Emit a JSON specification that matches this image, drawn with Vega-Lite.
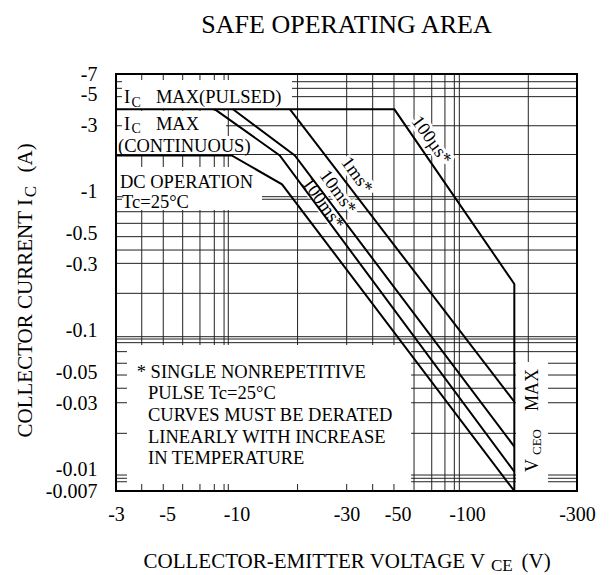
{
  "$schema": "https://vega.github.io/schema/vega-lite/v6.json",
  "width": 461,
  "height": 417,
  "autosize": {"type": "none"},
  "padding": {"left": 116, "top": 74, "right": 38, "bottom": 84},
  "background": "white",
  "config": {"font": "Liberation Serif", "view": {"stroke": null}},
  "title": {"text": "SAFE OPERATING AREA", "fontSize": 26, "fontWeight": "normal", "color": "black", "anchor": "middle", "baseline": "alphabetic", "offset": 5},
  "datasets": {
    "vgrid": [{"v":3.88},{"v":4.81},{"v":5.84},{"v":6.94},{"v":8.01},{"v":8.83},{"v":9.21},{"v":18.4},{"v":30.06},{"v":38.97},{"v":48.2},{"v":58.9},{"v":70.3},{"v":80.2},{"v":88.1},{"v":92.6},{"v":184.4}],
    "hgrid": [{"i":6.16},{"i":5.52},{"i":4.81},{"i":2.97},{"i":1.845},{"i":0.917},{"i":0.879},{"i":0.715},{"i":0.59},{"i":0.473},{"i":0.379},{"i":0.304},{"i":0.185},{"i":0.0902},{"i":0.0868},{"i":0.0817},{"i":0.0704},{"i":0.0581},{"i":0.0478},{"i":0.0384},{"i":0.0302},{"i":0.0182},{"i":0.00912},{"i":0.00864},{"i":0.00816}],
    "boxes": [
      {"x1":3.185,"x2":17.4,"y1":6.34,"y2":3.9},
      {"x1":3.185,"x2":9.0,"y1":3.79,"y2":2.384},
      {"x1":3.015,"x2":12.39,"y1":2.507,"y2":1.86},
      {"x1":3.185,"x2":12.9,"y1":1.5,"y2":0.736},
      {"x1":3.348,"x2":57.2,"y1":0.0786,"y2":0.00786},
      {"x1":163.1,"x2":224.6,"y1":0.0593,"y2":0.0071}
    ],
    "curves": [
      {"c":"100us","o":1,"v":3,"i":3.9},
      {"c":"100us","o":2,"v":48.4,"i":3.9},
      {"c":"100us","o":3,"v":160.4,"i":0.216},
      {"c":"100us","o":4,"v":160.4,"i":0.007},
      {"c":"1ms","o":1,"v":17.06,"i":3.9},
      {"c":"1ms","o":2,"v":160.4,"i":0.0307},
      {"c":"10ms","o":1,"v":9.65,"i":3.9},
      {"c":"10ms","o":2,"v":17.9,"i":1.815},
      {"c":"10ms","o":3,"v":160.4,"i":0.0146},
      {"c":"100ms","o":1,"v":8.06,"i":3.9},
      {"c":"100ms","o":2,"v":15.4,"i":1.815},
      {"c":"100ms","o":3,"v":160.4,"i":0.00964},
      {"c":"DC","o":1,"v":3,"i":1.815},
      {"c":"DC","o":2,"v":9.53,"i":1.815},
      {"c":"DC","o":3,"v":15.75,"i":1.126},
      {"c":"DC","o":4,"v":160.4,"i":0.007}
    ],
    "ann": [
      {"t":"I","v":3.25,"i":4.33},
      {"t":"MAX(PULSED)","v":4.47,"i":4.33},
      {"t":"I","v":3.25,"i":2.75},
      {"t":"MAX","v":4.47,"i":2.75},
      {"t":"(CONTINUOUS)","v":3.06,"i":1.908},
      {"t":"DC OPERATION","v":3.12,"i":1.059},
      {"t":"Tc=25°C","v":3.185,"i":0.76},
      {"t":"* SINGLE NONREPETITIVE","v":3.69,"i":0.0455},
      {"t":"PULSE Tc=25°C","v":4.13,"i":0.0319},
      {"t":"CURVES MUST BE DERATED","v":4.13,"i":0.02232},
      {"t":"LINEARLY WITH INCREASE","v":4.13,"i":0.01563},
      {"t":"IN TEMPERATURE","v":4.13,"i":0.01095}
    ],
    "sub": [
      {"t":"C","v":3.5,"i":4.05},
      {"t":"C","v":3.5,"i":2.615}
    ],
    "rot": [
      {"t":"100µs*","v":70.3,"i":2.345},
      {"t":"1ms*","v":33.4,"i":1.314},
      {"t":"10ms*","v":27.6,"i":0.996},
      {"t":"100ms*","v":23.8,"i":0.822}
    ],
    "vceo": [
      {"t":"V","v":203.2,"i":0.00959},
      {"t":"MAX","v":203.2,"i":0.02634}
    ],
    "vceosub": [
      {"t":"CEO","v":209.5,"i":0.01271}
    ],
    "frame": [{"x1":3,"x2":300,"y1":0.007,"y2":7}]
  },
  "resolve": {"axis": {"x": "independent", "y": "independent"}},
  "layer": [
    {
      "data": {"name": "vgrid"},
      "mark": {"type": "rule", "color": "#222", "strokeWidth": 1},
      "encoding": {
        "x": {"field": "v", "type": "quantitative", "scale": {"type": "log", "domain": [3, 300], "nice": false},
          "axis": {"orient": "bottom", "values": [3, 5, 10, 30, 50, 100, 300], "labelExpr": "'-' + datum.value", "grid": false, "ticks": false, "tickSize": 0, "domain": false,
            "labelFontSize": 20, "labelColor": "black", "labelPadding": 13, "labelFlush": false, "labelOverlap": false, "labelBound": false,
            "title": "COLLECTOR-EMITTER VOLTAGE V", "titleFontSize": 21, "titleFontWeight": "normal", "titleColor": "black",
            "titleX": 27, "titleY": 76, "titleAlign": "left", "titleBaseline": "alphabetic"}}
      }
    },
    {
      "data": {"name": "hgrid"},
      "mark": {"type": "rule", "color": "#222", "strokeWidth": 1},
      "encoding": {
        "y": {"field": "i", "type": "quantitative", "scale": {"type": "log", "domain": [0.007, 7], "nice": false},
          "axis": {"orient": "left", "values": [0.007, 0.01, 0.03, 0.05, 0.1, 0.3, 0.5, 1, 3, 5, 7], "labelExpr": "'-' + datum.value", "grid": false, "ticks": false, "tickSize": 0, "domain": false,
            "labelFontSize": 20, "labelColor": "black", "labelPadding": 19, "labelFlush": false, "labelOverlap": false, "labelBound": false,
            "title": "COLLECTOR CURRENT I", "titleFontSize": 21, "titleFontWeight": "normal", "titleColor": "black",
            "titleAngle": 270, "titleX": -85, "titleY": 363, "titleAlign": "left", "titleBaseline": "alphabetic"}}
      }
    },
    {
      "data": {"name": "boxes"},
      "mark": {"type": "rect", "color": "white"},
      "encoding": {
        "x": {"field": "x1", "type": "quantitative", "scale": {"type": "log", "domain": [3, 300], "nice": false},
          "axis": {"orient": "bottom", "labels": false, "ticks": false, "domain": false, "grid": false, "title": "CE", "titleFontSize": 17, "titleFontWeight": "normal", "titleColor": "black",
            "titleX": 374.5, "titleY": 79, "titleAlign": "left", "titleBaseline": "alphabetic"}},
        "x2": {"field": "x2"},
        "y": {"field": "y1", "type": "quantitative", "scale": {"type": "log", "domain": [0.007, 7], "nice": false},
          "axis": {"orient": "left", "labels": false, "ticks": false, "domain": false, "grid": false, "title": "C", "titleFontSize": 17, "titleFontWeight": "normal", "titleColor": "black",
            "titleAngle": 270, "titleX": -81, "titleY": 117, "titleAlign": "center", "titleBaseline": "alphabetic"}},
        "y2": {"field": "y2"}
      }
    },
    {
      "data": {"name": "rot"},
      "mark": {"type": "text", "angle": 54, "fontSize": 18.5, "fill": "white", "stroke": "white", "strokeWidth": 6, "align": "center", "baseline": "middle"},
      "encoding": {
        "x": {"field": "v", "type": "quantitative", "scale": {"type": "log", "domain": [3, 300], "nice": false}, "axis": null},
        "y": {"field": "i", "type": "quantitative", "scale": {"type": "log", "domain": [0.007, 7], "nice": false}, "axis": null},
        "text": {"field": "t"}
      }
    },
    {
      "data": {"name": "curves"},
      "mark": {"type": "line", "color": "black", "strokeWidth": 2},
      "encoding": {
        "x": {"field": "v", "type": "quantitative", "scale": {"type": "log", "domain": [3, 300], "nice": false}, "axis": null},
        "y": {"field": "i", "type": "quantitative", "scale": {"type": "log", "domain": [0.007, 7], "nice": false}, "axis": null},
        "detail": {"field": "c"},
        "order": {"field": "o", "type": "quantitative"}
      }
    },
    {
      "data": {"name": "ann"},
      "mark": {"type": "text", "align": "left", "baseline": "alphabetic", "fontSize": 18.5, "color": "black"},
      "encoding": {
        "x": {"field": "v", "type": "quantitative", "scale": {"type": "log", "domain": [3, 300], "nice": false}, "axis": null},
        "y": {"field": "i", "type": "quantitative", "scale": {"type": "log", "domain": [0.007, 7], "nice": false}, "axis": null},
        "text": {"field": "t"}
      }
    },
    {
      "data": {"name": "sub"},
      "mark": {"type": "text", "align": "left", "baseline": "alphabetic", "fontSize": 14, "color": "black"},
      "encoding": {
        "x": {"field": "v", "type": "quantitative", "scale": {"type": "log", "domain": [3, 300], "nice": false}, "axis": null},
        "y": {"field": "i", "type": "quantitative", "scale": {"type": "log", "domain": [0.007, 7], "nice": false}, "axis": null},
        "text": {"field": "t"}
      }
    },
    {
      "data": {"name": "rot"},
      "mark": {"type": "text", "angle": 54, "fontSize": 18.5, "color": "black", "align": "center", "baseline": "middle"},
      "encoding": {
        "x": {"field": "v", "type": "quantitative", "scale": {"type": "log", "domain": [3, 300], "nice": false}, "axis": null},
        "y": {"field": "i", "type": "quantitative", "scale": {"type": "log", "domain": [0.007, 7], "nice": false}, "axis": null},
        "text": {"field": "t"}
      }
    },
    {
      "data": {"name": "vceo"},
      "mark": {"type": "text", "angle": 270, "align": "left", "baseline": "alphabetic", "fontSize": 18, "color": "black"},
      "encoding": {
        "x": {"field": "v", "type": "quantitative", "scale": {"type": "log", "domain": [3, 300], "nice": false}, "axis": null},
        "y": {"field": "i", "type": "quantitative", "scale": {"type": "log", "domain": [0.007, 7], "nice": false}, "axis": null},
        "text": {"field": "t"}
      }
    },
    {
      "data": {"name": "vceosub"},
      "mark": {"type": "text", "angle": 270, "align": "left", "baseline": "alphabetic", "fontSize": 13, "color": "black"},
      "encoding": {
        "x": {"field": "v", "type": "quantitative", "scale": {"type": "log", "domain": [3, 300], "nice": false}, "axis": null},
        "y": {"field": "i", "type": "quantitative", "scale": {"type": "log", "domain": [0.007, 7], "nice": false}, "axis": null},
        "text": {"field": "t"}
      }
    },
    {
      "data": {"name": "frame"},
      "mark": {"type": "rect", "filled": false, "stroke": "black", "strokeWidth": 2},
      "encoding": {
        "x": {"field": "x1", "type": "quantitative", "scale": {"type": "log", "domain": [3, 300], "nice": false},
          "axis": {"orient": "bottom", "labels": false, "ticks": false, "domain": false, "grid": false, "title": "(V)", "titleFontSize": 21, "titleFontWeight": "normal", "titleColor": "black",
            "titleX": 405, "titleY": 76, "titleAlign": "left", "titleBaseline": "alphabetic"}},
        "x2": {"field": "x2"},
        "y": {"field": "y1", "type": "quantitative", "scale": {"type": "log", "domain": [0.007, 7], "nice": false},
          "axis": {"orient": "left", "labels": false, "ticks": false, "domain": false, "grid": false, "title": "(A)", "titleFontSize": 21, "titleFontWeight": "normal", "titleColor": "black",
            "titleAngle": 270, "titleX": -85, "titleY": 98, "titleAlign": "left", "titleBaseline": "alphabetic"}},
        "y2": {"field": "y2"}
      }
    }
  ]
}
